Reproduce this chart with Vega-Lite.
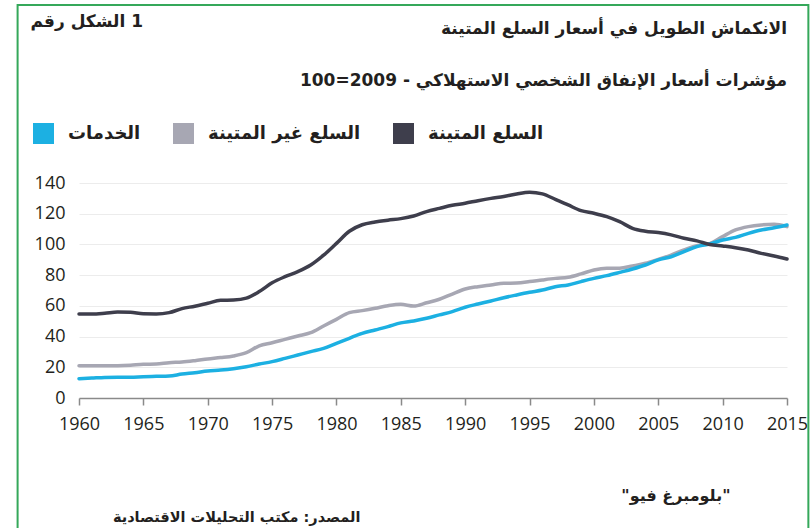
{
  "$schema": "https://vega.github.io/schema/vega-lite/v6.json",
  "width": 708,
  "height": 215,
  "autosize": {"type": "none"},
  "padding": {"left": 79, "top": 183, "right": 25, "bottom": 130},
  "background": "white",
  "title": {
    "text": "الانكماش الطويل في أسعار السلع المتينة",
    "subtitle": "مؤشرات أسعار الإنفاق الشخصي الاستهلاكي - 2009=100",
    "anchor": "end",
    "frame": "group",
    "offset": -86,
    "font": "DejaVu Sans",
    "fontSize": 17,
    "fontWeight": "bold",
    "color": "#231f20",
    "subtitleFont": "DejaVu Sans",
    "subtitleFontSize": 17,
    "subtitleFontWeight": "bold",
    "subtitleColor": "#231f20",
    "subtitlePadding": 35
  },
  "data": {
    "values": [
      {"year": 1960, "d": 54.7, "n": 21.0, "s": 12.6},
      {"year": 1961, "d": 54.7, "n": 21.0, "s": 13.0},
      {"year": 1962, "d": 55.2, "n": 21.0, "s": 13.4},
      {"year": 1963, "d": 56.0, "n": 21.0, "s": 13.5},
      {"year": 1964, "d": 55.8, "n": 21.3, "s": 13.5},
      {"year": 1965, "d": 54.8, "n": 22.0, "s": 13.9},
      {"year": 1966, "d": 54.7, "n": 22.1, "s": 14.1},
      {"year": 1967, "d": 55.6, "n": 23.0, "s": 14.3},
      {"year": 1968, "d": 58.2, "n": 23.4, "s": 15.6},
      {"year": 1969, "d": 59.8, "n": 24.3, "s": 16.5},
      {"year": 1970, "d": 61.7, "n": 25.4, "s": 17.6},
      {"year": 1971, "d": 63.6, "n": 26.3, "s": 18.2},
      {"year": 1972, "d": 63.8, "n": 27.4, "s": 19.1},
      {"year": 1973, "d": 65.0, "n": 29.5, "s": 20.4},
      {"year": 1974, "d": 69.3, "n": 34.0, "s": 22.1},
      {"year": 1975, "d": 75.0, "n": 36.0, "s": 23.7},
      {"year": 1976, "d": 79.0, "n": 38.2, "s": 25.8},
      {"year": 1977, "d": 82.3, "n": 40.4, "s": 28.0},
      {"year": 1978, "d": 86.6, "n": 42.5, "s": 30.2},
      {"year": 1979, "d": 93.0, "n": 46.9, "s": 32.3},
      {"year": 1980, "d": 100.7, "n": 51.2, "s": 35.6},
      {"year": 1981, "d": 108.6, "n": 55.6, "s": 38.9},
      {"year": 1982, "d": 112.8, "n": 56.9, "s": 42.1},
      {"year": 1983, "d": 114.6, "n": 58.4, "s": 44.3},
      {"year": 1984, "d": 115.8, "n": 60.1, "s": 46.5},
      {"year": 1985, "d": 116.8, "n": 61.0, "s": 48.9},
      {"year": 1986, "d": 118.5, "n": 59.9, "s": 50.2},
      {"year": 1987, "d": 121.4, "n": 62.0, "s": 51.9},
      {"year": 1988, "d": 123.5, "n": 64.3, "s": 54.1},
      {"year": 1989, "d": 125.5, "n": 67.7, "s": 56.2},
      {"year": 1990, "d": 126.8, "n": 71.0, "s": 59.1},
      {"year": 1991, "d": 128.5, "n": 72.5, "s": 61.2},
      {"year": 1992, "d": 130.0, "n": 73.6, "s": 63.2},
      {"year": 1993, "d": 131.2, "n": 74.7, "s": 65.3},
      {"year": 1994, "d": 132.9, "n": 74.9, "s": 67.1},
      {"year": 1995, "d": 134.0, "n": 75.8, "s": 68.8},
      {"year": 1996, "d": 132.9, "n": 76.9, "s": 70.3},
      {"year": 1997, "d": 129.4, "n": 77.9, "s": 72.5},
      {"year": 1998, "d": 125.7, "n": 78.6, "s": 73.6},
      {"year": 1999, "d": 122.0, "n": 80.8, "s": 75.8},
      {"year": 2000, "d": 120.3, "n": 83.4, "s": 77.9},
      {"year": 2001, "d": 118.1, "n": 84.5, "s": 79.7},
      {"year": 2002, "d": 114.8, "n": 84.5, "s": 81.8},
      {"year": 2003, "d": 110.5, "n": 86.0, "s": 84.0},
      {"year": 2004, "d": 108.6, "n": 87.7, "s": 86.6},
      {"year": 2005, "d": 107.7, "n": 90.3, "s": 89.9},
      {"year": 2006, "d": 106.2, "n": 93.1, "s": 92.0},
      {"year": 2007, "d": 104.0, "n": 96.4, "s": 95.3},
      {"year": 2008, "d": 102.3, "n": 99.2, "s": 98.6},
      {"year": 2009, "d": 100.0, "n": 100.5, "s": 100.3},
      {"year": 2010, "d": 99.0, "n": 105.1, "s": 102.9},
      {"year": 2011, "d": 97.9, "n": 109.4, "s": 104.6},
      {"year": 2012, "d": 96.4, "n": 111.6, "s": 107.2},
      {"year": 2013, "d": 94.2, "n": 112.7, "s": 109.4},
      {"year": 2014, "d": 92.5, "n": 113.1, "s": 110.9},
      {"year": 2015, "d": 90.5, "n": 111.6, "s": 112.7}
    ]
  },
  "layer": [
    {
      "data": {"values": [{"frame": 1}]},
      "mark": {"type": "rect", "fillOpacity": 0, "stroke": "#35a85a", "strokeWidth": 2, "clip": false},
      "encoding": {
        "x": {"datum": 1955.23, "type": "quantitative", "scale": {"domain": [1960, 2015], "nice": false, "zero": false}},
        "x2": {"datum": 2016.66},
        "y": {"datum": 255.9, "type": "quantitative", "scale": {"domain": [0, 140], "nice": false}, "axis": null},
        "y2": {"datum": -95}
      }
    },
    {
      "transform": [
        {"fold": ["n", "s"], "as": ["series", "value"]}
      ],
      "mark": {"type": "line", "strokeWidth": 3.5, "interpolate": "monotone", "strokeCap": "round"},
      "encoding": {
        "x": {
          "field": "year", "type": "quantitative",
          "scale": {"domain": [1960, 2015], "nice": false, "zero": false},
          "axis": {
            "values": [1960, 1965, 1970, 1975, 1980, 1985, 1990, 1995, 2000, 2005, 2010, 2015],
            "format": "d",
            "grid": false,
            "labelFlush": false,
            "title": "المصدر: مكتب التحليلات الاقتصادية",
            "titleX": 281,
            "titleY": 119,
            "titleAlign": "right",
            "titleBaseline": "middle",
            "titleFont": "DejaVu Sans",
            "titleFontSize": 14.5,
            "titleFontWeight": "bold",
            "titleColor": "#231f20"
          }
        },
        "y": {
          "field": "value", "type": "quantitative",
          "scale": {"domain": [0, 140], "nice": false},
          "axis": {
            "values": [0, 20, 40, 60, 80, 100, 120, 140],
            "grid": true,
            "domain": false,
            "ticks": false,
            "labelPadding": 14,
            "title": "الشكل رقم\u200E 1",
            "titleAngle": 0,
            "titleX": -49,
            "titleY": -162,
            "titleAlign": "left",
            "titleBaseline": "middle",
            "titleFont": "DejaVu Sans",
            "titleFontSize": 17,
            "titleFontWeight": "bold",
            "titleColor": "#231f20"
          }
        },
        "color": {
          "field": "series", "type": "nominal",
          "scale": {"domain": ["s", "n", "d"], "range": ["#1cb0e2", "#a7a7b3", "#3e3e4c"]},
          "legend": {
            "labelExpr": "datum.value == 's' ? 'الخدمات' : datum.value == 'n' ? 'السلع غير المتينة' : 'السلع المتينة'",
            "encode": {
              "symbols": {
                "update": {
                  "fill": {"scale": "color", "field": "value"},
                  "fillOpacity": {"value": 1},
                  "strokeWidth": {"value": 0}
                }
              }
            }
          }
        },
        "order": {"field": "series", "type": "nominal"}
      }
    },
    {
      "transform": [
        {"fold": ["d"], "as": ["series", "value"]}
      ],
      "mark": {"type": "line", "strokeWidth": 3.5, "interpolate": "monotone", "strokeCap": "round"},
      "encoding": {
        "x": {"field": "year", "type": "quantitative"},
        "y": {
          "field": "value", "type": "quantitative",
          "axis": {
            "orient": "right",
            "labels": false,
            "ticks": false,
            "domain": false,
            "grid": false,
            "title": "\"بلومبرغ فيو\"",
            "titleAngle": 0,
            "titleX": -57,
            "titleY": 312,
            "titleAlign": "right",
            "titleBaseline": "middle",
            "titleFont": "DejaVu Sans",
            "titleFontSize": 16,
            "titleFontWeight": "bold",
            "titleColor": "#231f20"
          }
        },
        "color": {"field": "series", "type": "nominal"}
      }
    }
  ],
  "resolve": {"axis": {"y": "independent"}},
  "config": {
    "view": {"stroke": null},
    "axis": {
      "labelFont": "Open Sans",
      "labelFontSize": 18,
      "labelColor": "#231f20",
      "gridColor": "#ececec",
      "gridWidth": 1
    },
    "axisX": {
      "domainColor": "#8a8a8a",
      "domainWidth": 1.5,
      "tickColor": "#8a8a8a",
      "tickWidth": 1.5,
      "tickSize": 7,
      "labelPadding": 10
    },
    "legend": {
      "orient": "none",
      "legendX": -46,
      "legendY": -60,
      "direction": "horizontal",
      "title": null,
      "symbolType": "square",
      "symbolSize": 441,
      "labelFont": "DejaVu Sans",
      "labelFontSize": 18,
      "labelFontWeight": "bold",
      "labelColor": "#231f20",
      "labelOffset": 14,
      "columnPadding": 32,
      "labelLimit": 300
    }
  }
}
